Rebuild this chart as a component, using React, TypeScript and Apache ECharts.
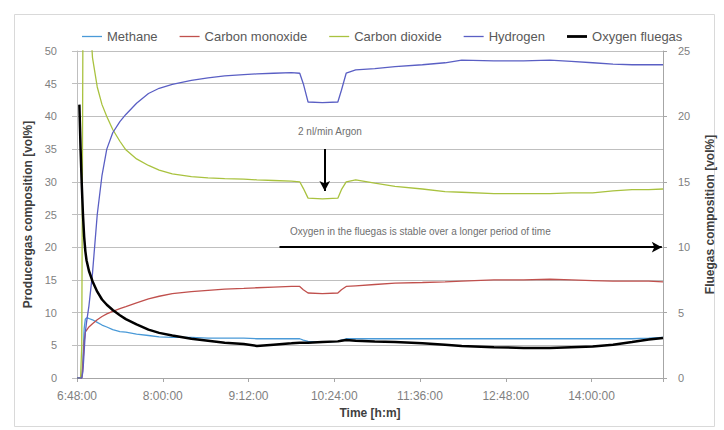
import React, { useEffect, useRef } from "react";
import * as echarts from "echarts";

// minutes after 6:48:00
const startMinutes = 408;
const timeMinutes = [0, 2, 3, 4, 5, 6, 7, 8, 10, 13, 17, 21, 25, 30, 36, 41, 50, 60, 69, 80, 96, 110, 124, 140, 151, 165, 180, 187, 190, 194, 206, 219, 222, 226, 234, 250, 267, 290, 309, 323, 350, 375, 397, 415, 433, 450, 466, 480, 492];

const methane = [0, 0, 0, 0, 3, 7.5, 9.0, 9.2, 9.1, 8.9, 8.5, 8.1, 7.8, 7.4, 7.1, 7.0, 6.7, 6.5, 6.3, 6.2, 6.2, 6.1, 6.1, 6.1, 6.0, 6.0, 6.0, 6.0, 5.8, 5.6, 5.5, 5.6, 5.8, 6.0, 6.0, 6.0, 6.0, 6.0, 6.0, 6.0, 6.0, 6.0, 6.0, 6.0, 6.0, 6.0, 6.0, 6.1, 6.2];
const carbonMonoxide = [0, 0, 0, 0, 2, 5.5, 7.0, 7.3, 7.8, 8.3, 8.9, 9.4, 9.8, 10.2, 10.6, 10.9, 11.5, 12.1, 12.5, 12.9, 13.2, 13.4, 13.6, 13.7, 13.8, 13.9, 14.0, 14.0, 13.5, 13.0, 12.9, 13.0, 13.5, 14.0, 14.1, 14.3, 14.5, 14.6, 14.7, 14.8, 15.0, 15.0, 15.1, 15.0, 14.9, 14.8, 14.8, 14.8, 14.7];
const carbonDioxide = [0, 0, 0, 5, 55, 70, 75, 70, 58, 49, 44.5, 41.8, 40, 38, 36.2, 34.9, 33.5, 32.5, 31.8, 31.2, 30.8, 30.6, 30.5, 30.4, 30.3, 30.2, 30.1, 30.0, 29.0, 27.5, 27.4, 27.5, 28.8, 30.0, 30.3, 29.8, 29.3, 28.9, 28.5, 28.4, 28.2, 28.2, 28.2, 28.3, 28.3, 28.6, 28.8, 28.8, 28.9];
const hydrogen = [0, 0, 0, 0, 1, 4, 7, 8.5, 11, 16, 25, 31, 35, 37.5, 39.2, 40.3, 42.0, 43.5, 44.3, 44.9, 45.5, 45.9, 46.2, 46.4, 46.5, 46.6, 46.7, 46.6, 45.0, 42.2, 42.1, 42.2, 44.0, 46.6, 47.1, 47.3, 47.6, 47.9, 48.2, 48.6, 48.5, 48.5, 48.6, 48.4, 48.2, 48.0, 47.9, 47.9, 47.9];
const oxygenFluegas = [null, 20.9, 17.5, 14.8, 12.5, 10.8, 9.7, 9.0, 8.2, 7.4, 6.6, 6.0, 5.6, 5.2, 4.8, 4.5, 4.1, 3.7, 3.45, 3.25, 3.0, 2.85, 2.7, 2.6, 2.45, 2.55, 2.65, 2.7, 2.7, 2.7, 2.75, 2.8, 2.85, 2.9, 2.85, 2.8, 2.75, 2.65, 2.55, 2.45, 2.35, 2.3, 2.3, 2.35, 2.4, 2.55, 2.75, 2.95, 3.05];

const seriesNames = ["Methane", "Carbon monoxide", "Carbon dioxide", "Hydrogen", "Oxygen fluegas"];
const seriesColors = ["#4A9AD8", "#C0504D", "#A9C23F", "#5A5FC4", "#000000"];

// annotations (time in minutes after 6:48, value)
const argonArrow = [[208, 35.0], [208, 28.6]];
const oxygenArrow = [[170, 10], [491, 10]];
const argonText = "2 nl/min Argon";
const oxygenText = "Oxygen in the fluegas is stable over a longer period of time";

const FONT = "Liberation Sans";

function fmtTime(v: number) {
  if (v % 72 !== 0) return "";
  const m = v + startMinutes;
  const h = Math.floor(m / 60);
  const mm = m % 60;
  return `${h}:${mm < 10 ? "0" + mm : mm}:00`;
}

export default function App() {
  const ref = useRef<HTMLDivElement>(null);
  useEffect(() => {
    if (!ref.current) return;
    const chart = echarts.init(ref.current, undefined, { renderer: "svg" });
    const all = [methane, carbonMonoxide, carbonDioxide, hydrogen, oxygenFluegas];
    const series: any[] = all.map((vals, i) => ({
      name: seriesNames[i],
      type: "line",
      yAxisIndex: i === 4 ? 1 : 0,
      data: timeMinutes.map((t, j) => [t, vals[j]]),
      symbol: "none",
      showSymbol: false,
      smooth: false,
      clip: true,
      color: seriesColors[i],
      lineStyle: { width: i === 4 ? 2.5 : 1.3, color: seriesColors[i] },
      z: i === 4 ? 5 : 3,
    }));
    series[2].markLine = {
      silent: true,
      symbol: ["none", "arrow"],
      symbolSize: [8, 10],
      label: { show: false },
      lineStyle: { color: "#000", width: 2, type: "solid" },
      data: [[{ coord: argonArrow[0] }, { coord: argonArrow[1] }]],
    };
    series[4].markLine = {
      silent: true,
      symbol: ["none", "arrow"],
      symbolSize: [8, 10],
      label: { show: false },
      lineStyle: { color: "#000", width: 2, type: "solid" },
      data: [[{ coord: oxygenArrow[0] }, { coord: oxygenArrow[1] }]],
    };
    chart.setOption({
      animation: false,
      backgroundColor: "#fff",
      textStyle: { fontFamily: FONT },
      legend: {
        top: 25,
        left: 77,
        itemGap: 22,
        itemWidth: 20,
        itemHeight: 6,
        textStyle: { color: "#595959", fontSize: 13, fontFamily: FONT },
        data: seriesNames.map((n, i) => ({
          name: n,
          icon: i === 4 ? "path://M0,0H20V2.8H0Z" : "path://M0,0H20V1.3H0Z",
        })),
      },
      grid: { left: 77, right: 52, top: 51, bottom: 52 },
      xAxis: {
        type: "value",
        min: 0,
        max: 492,
        interval: 72,
        name: "Time [h:m]",
        nameLocation: "middle",
        nameGap: 29,
        nameTextStyle: { fontWeight: "bold", fontSize: 12, color: "#404040" },
        axisLine: { show: true, lineStyle: { color: "#A6A6A6" } },
        axisTick: { show: true, length: 4, lineStyle: { color: "#A6A6A6" } },
        axisLabel: { color: "#7F7F7F", fontSize: 12, margin: 12, formatter: fmtTime },
        splitLine: { show: false },
      },
      yAxis: [
        {
          type: "value",
          min: 0,
          max: 50,
          interval: 5,
          name: "Producergas composition [vol%]",
          nameLocation: "middle",
          nameRotate: 90,
          nameGap: 29,
          nameTextStyle: { fontWeight: "bold", fontSize: 12, color: "#404040" },
          axisLine: { show: true, lineStyle: { color: "#BFBFBF" } },
          axisTick: { show: true, length: 5, lineStyle: { color: "#BFBFBF" } },
          axisLabel: { color: "#7F7F7F", fontSize: 11, margin: 20 },
          splitLine: { show: true, lineStyle: { color: "#BFBFBF", width: 1 } },
        },
        {
          type: "value",
          min: 0,
          max: 25,
          interval: 5,
          position: "right",
          name: "Fluegas composition [vol%]",
          nameLocation: "middle",
          nameRotate: 90,
          nameGap: 41,
          nameTextStyle: { fontWeight: "bold", fontSize: 12, color: "#404040" },
          axisLine: { show: true, lineStyle: { color: "#A6A6A6" } },
          axisTick: { show: true, length: 4, lineStyle: { color: "#A6A6A6" } },
          axisLabel: { color: "#7F7F7F", fontSize: 11, margin: 15 },
          splitLine: { show: false },
        },
      ],
      graphic: [
        {
          type: "rect",
          left: 12,
          top: 12,
          shape: { width: 700, height: 412 },
          style: { fill: "none", stroke: "#D9D9D9", lineWidth: 1 },
          silent: true,
          z: -1,
        },
        {
          type: "text",
          left: 298,
          top: 126,
          style: { text: argonText, fill: "#6F6F6F", fontSize: 10, fontFamily: FONT },
          silent: true,
        },
        {
          type: "text",
          left: 290,
          top: 226,
          style: { text: oxygenText, fill: "#6F6F6F", fontSize: 10, fontFamily: FONT },
          silent: true,
        },
      ],
      series,
    });
    return () => chart.dispose();
  }, []);
  return (
    <div
      ref={ref}
      style={{ position: "absolute", left: 0, top: 0, width: 724, height: 430 }}
    />
  );
}
